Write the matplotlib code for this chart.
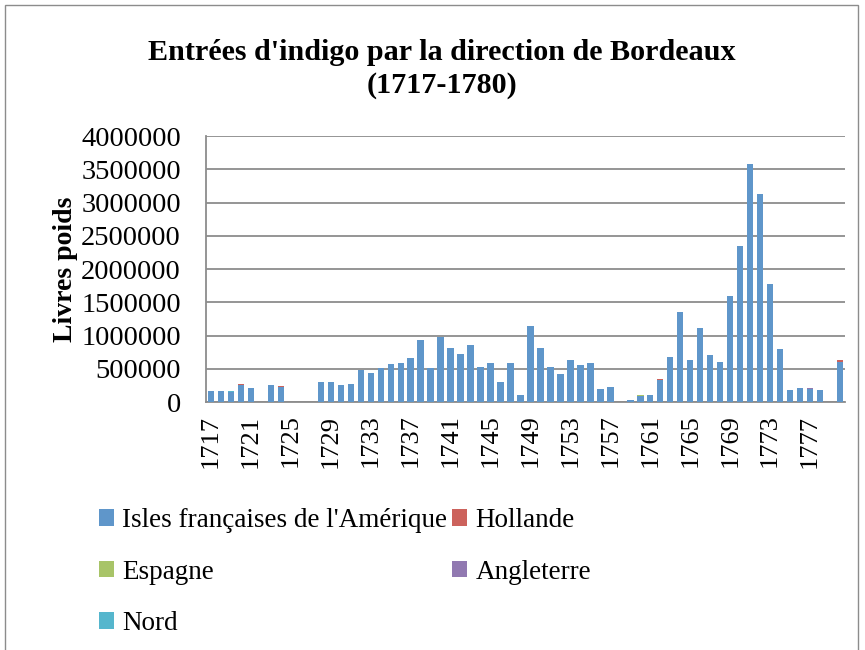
import matplotlib
matplotlib.use("Agg")
import matplotlib.pyplot as plt
from matplotlib.patches import Rectangle, Patch
import numpy as np

years = list(range(1717, 1781))
tick_years = [1717, 1721, 1725, 1729, 1733, 1737, 1741, 1745, 1749, 1753,
              1757, 1761, 1765, 1769, 1773, 1777]

isles = [160000, 160000, 150000, 255000, 205000, 0, 260000, 220000, 0, 0,
         0, 305000, 305000, 260000, 275000, 475000, 435000, 515000, 565000, 585000,
         660000, 930000, 510000, 975000, 805000, 725000, 855000, 530000, 585000, 300000,
         585000, 110000, 1150000, 805000, 530000, 420000, 630000, 560000, 585000, 200000,
         225000, 0, 25000, 90000, 100000, 335000, 670000, 1350000, 630000, 1110000,
         705000, 605000, 1590000, 2345000, 3585000, 3125000, 1775000, 800000, 180000, 210000,
         190000, 185000, 0, 600000]
hollande = [0] * 64
espagne = [0] * 64
angleterre = [0] * 64
nord = [0] * 64
hollande[1720 - 1717] = 15000
hollande[1724 - 1717] = 15000
hollande[1762 - 1717] = 5000
hollande[1780 - 1717] = 35000
espagne[1721 - 1717] = 10000
espagne[1759 - 1717] = 10000
espagne[1760 - 1717] = 10000
espagne[1762 - 1717] = 10000
angleterre[1718 - 1717] = 10000
angleterre[1777 - 1717] = 20000
nord[1719 - 1717] = 8000

series_names = ["Isles françaises de l'Amérique", "Hollande", "Espagne", "Angleterre", "Nord"]
series_vals = [isles, hollande, espagne, angleterre, nord]
colors = ["#5F96CA", "#CC625C", "#A8C468", "#9179B1", "#55B6CD"]

plt.rcParams['font.family'] = ['Liberation Serif', 'DejaVu Serif']

W, H = 865, 650
fig = plt.figure(figsize=(W / 100, H / 100), dpi=100)

# outer chart border
fig.patches.append(Rectangle((5 / W, -0.01), 853 / W, 1 - 5 / H + 0.01,
                             transform=fig.transFigure, fill=False,
                             edgecolor="#8C8C8C", linewidth=1.0))

ax = fig.add_axes([206 / W, 1 - 402 / H, (845 - 206) / W, (402 - 136) / H])

x = np.arange(len(years))
bottom = np.zeros(len(years))
for name, vals, c in zip(series_names, series_vals, colors):
    v = np.array(vals, dtype=float)
    ax.bar(x, v, width=0.64, bottom=bottom, color=c, label=name, zorder=3)
    bottom += v

ax.set_xlim(-0.5, len(years) - 0.5)
ax.set_ylim(0, 4000000)
yt = np.arange(0, 4000001, 500000)
ax.set_yticks(yt)
ax.set_yticklabels([str(int(v)) for v in yt], fontsize=20.5)
ax.set_xticks([years.index(y) for y in tick_years])
ax.set_xticklabels([str(y) for y in tick_years], rotation=90, fontsize=19)
ax.tick_params(axis='both', length=0)
ax.tick_params(axis='y', pad=18)
ax.tick_params(axis='x', pad=9)

ax.grid(axis='y', color="#8C8C8C", linewidth=1.3, zorder=0)
for s in ['top', 'right']:
    ax.spines[s].set_visible(False)
for s in ['left', 'bottom']:
    ax.spines[s].set_color("#8C8C8C")
    ax.spines[s].set_linewidth(1.3)

ax.set_ylabel("Livres poids", fontsize=20, fontweight='bold')
ax.yaxis.set_label_coords(-0.2, 0.5)

fig.text(442 / W, 1 - 69 / H, "Entrées d'indigo par la direction de Bordeaux\n(1717-1780)",
         ha='center', va='center', fontsize=21.7, fontweight='bold', linespacing=1.25)

handles = [Patch(facecolor=c) for c in colors]
order = [0, 2, 4, 1, 3]
fig.legend([handles[i] for i in order], [series_names[i] for i in order],
           loc='upper left', bbox_to_anchor=(99 / W, 1 - 508 / H), ncol=2,
           frameon=False, fontsize=19.5, handlelength=0.55, handleheight=0.55,
           handletextpad=0.3, labelspacing=0.98, columnspacing=0.2, borderpad=0,
           borderaxespad=0)

fig.savefig("out.png", dpi=100)
